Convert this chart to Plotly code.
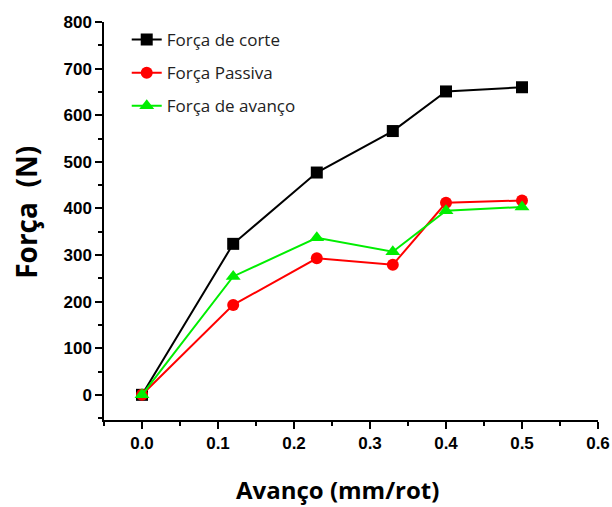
import plotly.graph_objects as go

avanco = [0.0, 0.12, 0.23, 0.33, 0.40, 0.50]
forca_corte = [0, 324, 477, 566, 651, 660]
forca_passiva = [0, 193, 293, 279, 412, 417]
forca_avanco = [0, 254, 337, 307, 395, 403]

x_ticks = [0.0, 0.1, 0.2, 0.3, 0.4, 0.5, 0.6]
x_labels = ["0.0", "0.1", "0.2", "0.3", "0.4", "0.5", "0.6"]
y_ticks = [0, 100, 200, 300, 400, 500, 600, 700, 800]
y_labels = ["0", "100", "200", "300", "400", "500", "600", "700", "800"]

series = [
    ("Força de corte", forca_corte, "#000000", "square", 12),
    ("Força Passiva", forca_passiva, "#ff0000", "circle", 12),
    ("Força de avanço", forca_avanco, "#00ee00", "triangle-up", 13),
]

fig = go.Figure()
for i, (name, ys, color, sym, size) in enumerate(series):
    fig.add_trace(go.Scatter(
        x=avanco, y=ys, name=name, mode="lines+markers",
        legendgroup=f"g{i}",
        line=dict(color=color, width=2),
        marker=dict(symbol=sym, size=size, color=color, line=dict(width=0)),
    ))

tick_font = dict(family="Liberation Sans, Arial", size=17, color="#000000", weight="bold")

fig.update_layout(
    width=612, height=507,
    margin=dict(l=104, r=14, t=22, b=87),
    paper_bgcolor="white", plot_bgcolor="white",
    showlegend=True,
    legend=dict(
        x=0.046, y=1.0, xanchor="left", yanchor="top",
        bgcolor="rgba(0,0,0,0)",
        font=dict(family="Open Sans", size=17, color="#222222"),
        tracegroupgap=8,
    ),
    xaxis=dict(
        range=[-0.05, 0.6], automargin=False,
        tickmode="array", tickvals=x_ticks, ticktext=x_labels,
        ticks="outside", ticklen=7, tickwidth=1.5, tickcolor="black",
        minor=dict(tickvals=[-0.05, 0.05, 0.15, 0.25, 0.35, 0.45, 0.55],
                   ticks="outside", ticklen=4, tickwidth=1.5, tickcolor="black"),
        showline=True, linecolor="black", linewidth=1.5,
        showgrid=False, zeroline=False,
        tickfont=tick_font,
    ),
    yaxis=dict(
        range=[-54, 800], automargin=False,
        tickmode="array", tickvals=y_ticks, ticktext=y_labels,
        ticks="outside", ticklen=7, tickwidth=1.5, tickcolor="black",
        minor=dict(tickvals=[-50, 50, 150, 250, 350, 450, 550, 650, 750],
                   ticks="outside", ticklen=4, tickwidth=1.5, tickcolor="black"),
        showline=True, linecolor="black", linewidth=1.5,
        showgrid=False, zeroline=False,
        tickfont=tick_font,
    ),
    annotations=[
        dict(text="<b>Avanço (mm/rot)</b>", xref="paper", yref="paper",
             x=0.472, y=-0.175, xanchor="center", yanchor="middle",
             showarrow=False,
             font=dict(family="Open Sans", size=24, color="#000000")),
        dict(text="<b>Força  (N)</b>", xref="paper", yref="paper",
             x=-0.158, y=0.523, xanchor="center", yanchor="middle",
             textangle=-90, showarrow=False,
             font=dict(family="Open Sans", size=28, color="#000000")),
    ],
)

fig.write_html(
    "out.html",
    config={"displayModeBar": False},
    post_script="document.body.style.margin='0px';document.body.style.overflow='hidden';",
)
